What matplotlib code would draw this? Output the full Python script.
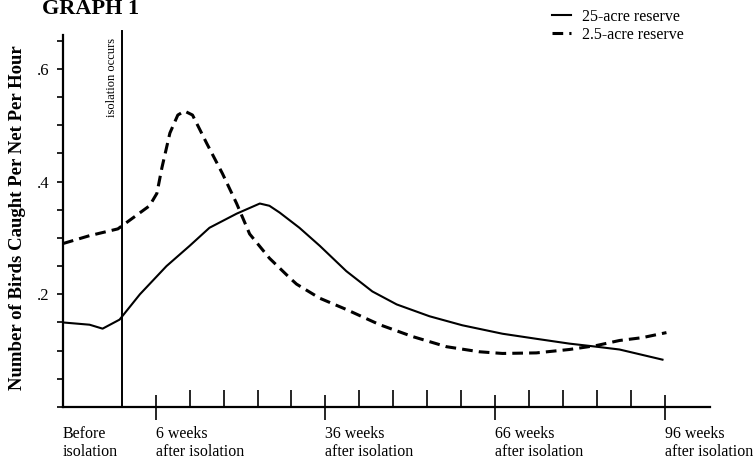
import matplotlib
matplotlib.use("Agg")
import matplotlib.pyplot as plt
from matplotlib.ticker import MultipleLocator, FixedLocator

# weeks relative to isolation (isolation at week 0)
weeks_25 = [-10.4, -5.7, -3.4, -0.4, 3.2, 7.9, 12.0, 15.5, 20.3, 24.4, 26.1, 27.9,
            31.4, 35.0, 39.7, 44.3, 48.6, 54.4, 60.2, 67.3, 73.3, 79.1, 83.9, 88.0, 95.6]
birds_25 = [0.150, 0.146, 0.139, 0.155, 0.200, 0.250, 0.286, 0.318, 0.343, 0.361, 0.357, 0.345,
            0.318, 0.286, 0.241, 0.205, 0.182, 0.161, 0.145, 0.130, 0.121, 0.1125, 0.107, 0.102, 0.084]

weeks_2_5 = [-10.4, -5.7, -0.7, 4.9, 6.2, 7.1, 8.5, 9.9, 11.1, 12.5, 15.0, 17.8, 20.3, 22.6,
             26.1, 29.7, 30.9, 35.0, 39.7, 45.6, 51.4, 57.4, 63.2, 67.3, 73.3, 79.1, 83.9,
             88.0, 92.0, 96.3]
birds_2_5 = [0.290, 0.304, 0.316, 0.357, 0.379, 0.425, 0.486, 0.518, 0.525, 0.518, 0.468, 0.414,
             0.361, 0.307, 0.264, 0.229, 0.218, 0.193, 0.173, 0.146, 0.125, 0.107, 0.098, 0.095,
             0.096, 0.102, 0.109, 0.118, 0.123, 0.132]

tick_weeks = [-10.4, 6, 36, 66, 96]
tick_labels = ["Before\nisolation", "6 weeks\nafter isolation", "36 weeks\nafter isolation",
               "66 weeks\nafter isolation", "96 weeks\nafter isolation"]
minor_weeks = [12, 18, 24, 30, 42, 48, 54, 60, 72, 78, 84, 90]
y_ticks = [0.2, 0.4, 0.6]
y_labels = [".2", ".4", ".6"]

plt.rcParams["font.family"] = ["Liberation Serif", "DejaVu Serif"]

fig = plt.figure(figsize=(7.54, 4.62), dpi=100)
ax = fig.add_axes([63 / 754, 1 - 407 / 462, (710 - 63) / 754, (407 - 35) / 462])

ax.plot(weeks_25, birds_25, color="black", lw=1.5, label="25-acre reserve")
ax.plot(weeks_2_5, birds_2_5, color="black", lw=2.2, linestyle=(0, (3.5, 2)),
        label="2.5-acre reserve")

# isolation marker
ax.axvline(0, color="black", lw=1.4, ymax=1.01, clip_on=False)
ax.text(-0.6, 0.655, "isolation occurs", rotation=90, ha="right", va="top", fontsize=9)

ax.set_xlim(-10.4, 104)
ax.set_ylim(0, 0.66)

for s in ["top", "right"]:
    ax.spines[s].set_visible(False)
ax.spines["left"].set_linewidth(1.6)
ax.spines["bottom"].set_linewidth(1.6)

ax.set_yticks(y_ticks)
ax.set_yticklabels(y_labels, fontsize=12)
ax.yaxis.set_minor_locator(MultipleLocator(0.05))
ax.tick_params(axis="y", which="both", direction="out", length=4, width=1.2, pad=6)

ax.set_xticks(tick_weeks)
ax.set_xticklabels(tick_labels, fontsize=11.5, ha="left", linespacing=1.15)
ax.xaxis.set_minor_locator(FixedLocator(minor_weeks))
ax.tick_params(axis="x", which="major", direction="inout", length=18, width=1.2, pad=5)
ax.tick_params(axis="x", which="minor", direction="in", length=12, width=1.2)
ax.xaxis.get_major_ticks()[0].tick1line.set_visible(False)

fig.text(18 / 754, 1 - 218 / 462, "Number of Birds Caught Per Net Per Hour", rotation=90,
         ha="center", va="center", fontsize=13.5, fontweight="bold")
fig.text(42 / 754, 1 - 14 / 462, "GRAPH 1", fontsize=16, fontweight="bold", va="baseline")

fig.legend(loc="upper left", bbox_to_anchor=(552 / 754, 1 - 9 / 462), frameon=False,
           handlelength=1.2, handletextpad=0.7, labelspacing=0.12, fontsize=11.5,
           borderaxespad=0, borderpad=0)

fig.savefig("out.png", dpi=100)
